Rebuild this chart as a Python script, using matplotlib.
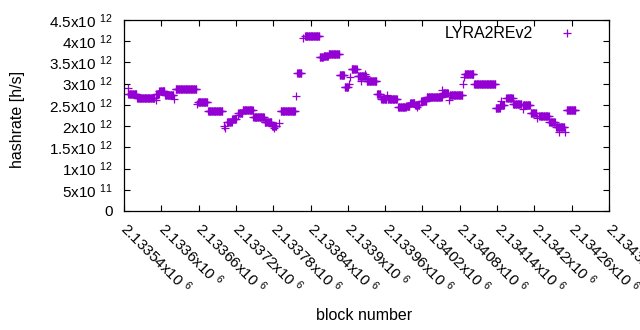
import numpy as np
import matplotlib
matplotlib.use("Agg")
import matplotlib.pyplot as plt

plt.rcParams['font.family'] = ['Liberation Sans', 'DejaVu Sans']
plt.rcParams['mathtext.fontset'] = 'custom'
plt.rcParams['mathtext.rm'] = 'Liberation Sans'
plt.rcParams['mathtext.it'] = 'Liberation Sans'
plt.rcParams['mathtext.default'] = 'regular'

# runs of blocks with constant hashrate (in 1e12 h/s)
run_start = [2133546, 2133547, 2133561, 2133591, 2133592, 2133597, 2133606, 2133620,
             2133623, 2133658, 2133659, 2133675, 2133701, 2133703, 2133706, 2133714,
             2133723, 2133724, 2133731, 2133748, 2133766, 2133778, 2133781, 2133789,
             2133792, 2133817, 2133819, 2133828, 2133831, 2133855, 2133861, 2133869,
             2133887, 2133895, 2133902, 2133903, 2133906, 2133916, 2133921, 2133927,
             2133930, 2133947, 2133954, 2133963, 2133964, 2133981, 2133994, 2134000,
             2134008, 2134011, 2134018, 2134027, 2134052, 2134053, 2134062, 2134064,
             2134085, 2134086, 2134088, 2134103, 2134138, 2134145, 2134147, 2134155,
             2134166, 2134181, 2134182, 2134194, 2134204, 2134208, 2134224, 2134235,
             2134240, 2134249, 2134252]
run_end = [2133546, 2133560, 2133589, 2133591, 2133596, 2133605, 2133619, 2133620,
           2133656, 2133658, 2133674, 2133698, 2133701, 2133703, 2133713, 2133720,
           2133723, 2133730, 2133747, 2133765, 2133777, 2133785, 2133781, 2133789,
           2133815, 2133817, 2133825, 2133828, 2133854, 2133860, 2133868, 2133886,
           2133894, 2133900, 2133902, 2133903, 2133914, 2133929, 2133921, 2133927,
           2133946, 2133952, 2133962, 2133963, 2133979, 2133993, 2133999, 2134007,
           2134015, 2134011, 2134026, 2134051, 2134052, 2134061, 2134062, 2134084,
           2134085, 2134086, 2134102, 2134137, 2134144, 2134151, 2134147, 2134165,
           2134179, 2134181, 2134193, 2134203, 2134204, 2134223, 2134233, 2134248,
           2134240, 2134249, 2134266]
run_value = [2.89, 2.75, 2.655, 2.61, 2.76, 2.82, 2.73, 2.63,
             2.865, 2.52, 2.575, 2.35, 2.0, 1.95, 2.09, 2.17,
             2.26, 2.32, 2.38, 2.22, 2.09, 2.0, 1.95, 2.08,
             2.35, 2.71, 3.245, 4.08, 4.12, 3.62, 3.66, 3.70,
             3.20, 2.93, 3.0, 3.15, 3.35, 3.18, 3.07, 3.23,
             3.06, 2.76, 2.65, 2.73, 2.63, 2.44, 2.47, 2.55,
             2.49, 2.44, 2.60, 2.68, 2.85, 2.79, 2.61, 2.73,
             3.0, 3.16, 3.22, 2.985, 2.42, 2.50, 2.58, 2.655,
             2.51, 2.40, 2.49, 2.30, 2.20, 2.24, 2.10, 1.97,
             1.87, 1.87, 2.38]

x_ticks = [2133540, 2133600, 2133660, 2133720, 2133780, 2133840, 2133900,
           2133960, 2134020, 2134080, 2134140, 2134200, 2134260, 2134320]
x_ticklabels = ['2.13354x10 $^{6}$', '2.1336x10 $^{6}$', '2.13366x10 $^{6}$',
                '2.13372x10 $^{6}$', '2.13378x10 $^{6}$', '2.13384x10 $^{6}$',
                '2.1339x10 $^{6}$', '2.13396x10 $^{6}$', '2.13402x10 $^{6}$',
                '2.13408x10 $^{6}$', '2.13414x10 $^{6}$', '2.1342x10 $^{6}$',
                '2.13426x10 $^{6}$', '2.13432x10 $^{6}$']
y_ticks = [0, 0.5e12, 1e12, 1.5e12, 2e12, 2.5e12, 3e12, 3.5e12, 4e12, 4.5e12]
y_ticklabels = ['0', '5x10 $^{11}$', '1x10 $^{12}$', '1.5x10 $^{12}$', '2x10 $^{12}$',
                '2.5x10 $^{12}$', '3x10 $^{12}$', '3.5x10 $^{12}$', '4x10 $^{12}$',
                '4.5x10 $^{12}$']

blocks = np.concatenate([np.arange(s, e + 1) for s, e in zip(run_start, run_end)])
rates = np.concatenate([np.full(e - s + 1, v * 1e12) for s, e, v in zip(run_start, run_end, run_value)])

fig = plt.figure(figsize=(6.4, 3.3), dpi=100)
ax = fig.add_axes([124/640, 1 - 211/330, (609-124)/640, (211-20)/330])
color = '#9400D3'
ax.plot(blocks, rates, linestyle='none', marker='+', markersize=5.4,
        markeredgewidth=0.9, color=color, label='LYRA2REv2')

ax.set_xlim(2133540, 2134320)
ax.set_ylim(0, 4.5e12)
ax.set_xticks(x_ticks)
ax.set_xticklabels(x_ticklabels, rotation=-45, rotation_mode='anchor',
                   ha='left', va='center', fontsize=11)
ax.set_yticks(y_ticks)
ax.set_yticklabels(y_ticklabels, fontsize=11)
ax.tick_params(axis='both', which='both', direction='in', length=4, width=0.8,
               top=True, right=True, color='black')
ax.tick_params(axis='x', pad=10.5)
ax.tick_params(axis='y', pad=8)
for sp in ax.spines.values():
    sp.set_linewidth(0.9)

ax.set_xlabel('block number', fontsize=11.5)
ax.xaxis.set_label_coords((364 - 124) / 485, (211 - 308) / 191)
ax.set_ylabel('hashrate [h/s]', fontsize=11.5)
ax.yaxis.set_label_coords((25 - 124) / 485, (211 - 119) / 191)

leg = ax.legend(loc='upper right', bbox_to_anchor=(0.946, 0.967), frameon=False,
                markerfirst=False, handlelength=2.0, handletextpad=1.1,
                borderaxespad=0, borderpad=0, fontsize=11.5)

fig.savefig('out.png', dpi=100)
